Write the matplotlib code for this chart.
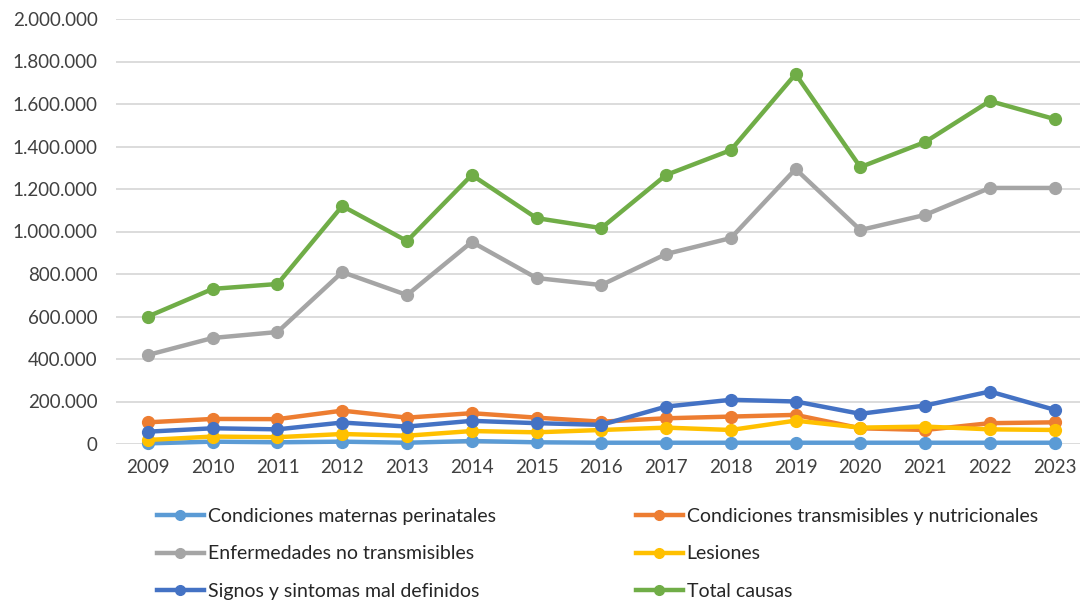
""" Mortality by cause group, 2009-2023 (line chart).
"""

import matplotlib
matplotlib.use("Agg")
import matplotlib.pyplot as plt
from matplotlib.ticker import FuncFormatter
from matplotlib.lines import Line2D


""" DATA """
years = [2009, 2010, 2011, 2012, 2013, 2014, 2015, 2016,
         2017, 2018, 2019, 2020, 2021, 2022, 2023]

maternas = [3000, 11000, 8000, 11000, 6000, 14000, 8000, 6000,
            6000, 6000, 6000, 6000, 6000, 6000, 6000]
transmisibles = [102000, 118000, 117000, 157000, 124000, 145000, 124000, 105000,
                 121000, 129000, 137000, 74000, 66000, 98000, 102000]
no_transmisibles = [419000, 499000, 527000, 809000, 701000, 951000, 781000, 748000,
                    894000, 969000, 1294000, 1007000, 1078000, 1205000, 1205000]
lesiones = [19000, 35000, 32000, 47000, 39000, 61000, 55000, 66000,
            77000, 66000, 110000, 77000, 82000, 69000, 66000]
signos = [58000, 74000, 69000, 101000, 82000, 109000, 98000, 90000,
          176000, 208000, 200000, 142000, 181000, 247000, 161000]
total = [600000, 730000, 753000, 1120000, 955000, 1266000, 1063000, 1016000,
         1266000, 1383000, 1741000, 1303000, 1421000, 1614000, 1529000]

labels = ["Condiciones maternas perinatales",
          "Condiciones transmisibles y nutricionales",
          "Enfermedades no transmisibles",
          "Lesiones",
          "Signos y sintomas mal definidos",
          "Total causas"]
colors = ["#5B9BD5", "#ED7D31", "#A5A5A5", "#FFC000", "#4472C4", "#70AD47"]


""" PLOT """
plt.rcParams['font.family'] = ['Lato', 'DejaVu Sans']

fig = plt.figure(figsize=(10.8, 6.02), dpi=100)
ax = fig.add_axes([115.6 / 1080, 1 - 444 / 602, 971.4 / 1080, 425 / 602])

series = [maternas, transmisibles, no_transmisibles, lesiones, signos, total]
x = list(range(len(years)))
for values, label, color in zip(series, labels, colors):
    ax.plot(x, values, color=color, lw=3.2, marker='o', ms=8.5,
            label=label, solid_capstyle='round', clip_on=False)

ax.set_xlim(-0.5, len(years) - 0.5)
ax.set_ylim(0, 2000000)
ax.set_yticks(range(0, 2000001, 200000))
ax.yaxis.set_major_formatter(
    FuncFormatter(lambda v, _: f"{int(v):,}".replace(",", ".")))
ax.set_xticks(x)
ax.set_xticklabels([str(y) for y in years])

ax.grid(axis='y', color='#D9D9D9', lw=1.3)
ax.set_axisbelow(True)
for s in ax.spines.values():
    s.set_visible(False)
ax.tick_params(length=0, labelsize=13.5, colors='#404040')
ax.tick_params(axis='y', pad=13)
ax.tick_params(axis='x', pad=11)

# legend: two columns placed by hand
def legend_handle(color):
    return Line2D([], [], color=color, lw=3.2, marker='o', ms=7)

col1 = [0, 2, 4]
col2 = [1, 3, 5]
for idx, xpos in [(col1, 157 / 1080), (col2, 636 / 1080)]:
    leg = fig.legend([legend_handle(colors[i]) for i in idx],
                     [labels[i] for i in idx],
                     loc='upper left', bbox_to_anchor=(xpos, 1 - 508 / 602),
                     frameon=False, fontsize=14, handlelength=2.4,
                     handletextpad=0.2, labelspacing=1.05, borderaxespad=0,
                     borderpad=0)
    for t in leg.get_texts():
        t.set_color('#262626')

fig.savefig("out.png", dpi=100)
